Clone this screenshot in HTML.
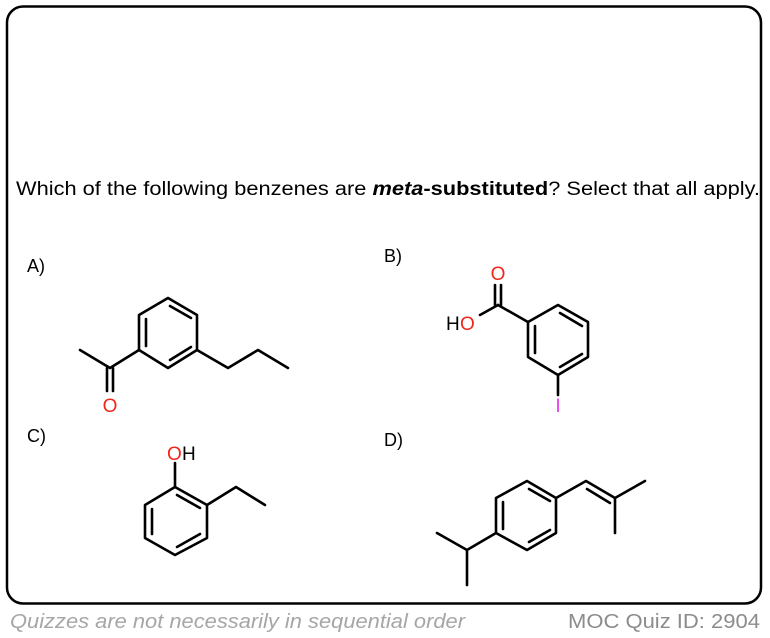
<!DOCTYPE html>
<html><head><meta charset="utf-8"><style>
html,body{margin:0;padding:0;background:#fff;width:770px;height:638px;overflow:hidden}
svg{display:block}
text{font-family:"Liberation Sans",Arial,sans-serif}
</style></head><body>
<svg width="770" height="638" viewBox="0 0 770 638" xmlns="http://www.w3.org/2000/svg">
<rect x="7" y="6.5" width="754" height="597" rx="16" ry="16" fill="none" stroke="#000" stroke-width="2.5"/>
<text x="16" y="195" font-size="19" textLength="744" lengthAdjust="spacingAndGlyphs">Which of the following benzenes are <tspan font-weight="bold" font-style="italic">meta</tspan><tspan font-weight="bold">-substituted</tspan>? Select that all apply.</text>
<text x="27" y="272" font-size="18">A)</text>
<text x="384" y="262" font-size="18">B)</text>
<text x="27" y="442" font-size="18">C)</text>
<text x="384" y="446" font-size="18">D)</text>
<g stroke="#000" stroke-width="2.6" fill="none" stroke-linecap="round" stroke-linejoin="round">
<!-- A -->
<polygon points="139,315 168,298 197,315 197,350 168,368 139,350"/>
<line x1="146" y1="319" x2="146" y2="346"/>
<line x1="170" y1="306" x2="191" y2="318"/>
<line x1="170" y1="360" x2="191" y2="347"/>
<polyline points="80,350 110,368 139,350"/>
<line x1="107" y1="368" x2="107" y2="391"/>
<line x1="113" y1="368" x2="113" y2="391"/>
<polyline points="197,350 228,368 258,350 288,368"/>
<!-- B -->
<polygon points="558,305 588,322 588,357 558,375 528,357 528,322"/>
<line x1="535" y1="326" x2="535" y2="353"/>
<line x1="560" y1="313" x2="582" y2="326"/>
<line x1="560" y1="367" x2="582" y2="354"/>
<line x1="528" y1="322" x2="498" y2="305"/>
<line x1="498" y1="305" x2="480" y2="315"/>
<line x1="495" y1="305" x2="495" y2="285"/>
<line x1="501" y1="305" x2="501" y2="285"/>
<line x1="558" y1="375" x2="558" y2="395"/>
<!-- C -->
<polygon points="175,487 207,505 207,538 175,555 145,538 145,505"/>
<line x1="152" y1="509" x2="152" y2="534"/>
<line x1="177" y1="495" x2="200" y2="508"/>
<line x1="177" y1="547" x2="200" y2="534"/>
<line x1="175" y1="487" x2="175" y2="463"/>
<polyline points="207,505 236,487 265,505"/>
<!-- D -->
<polygon points="527,481 556,498 556,533 527,550 496,533 496,498"/>
<line x1="503" y1="502" x2="503" y2="529"/>
<line x1="529" y1="489" x2="550" y2="501"/>
<line x1="529" y1="542" x2="550" y2="530"/>
<polyline points="496,533 467,550 437,533"/>
<line x1="467" y1="550" x2="467" y2="585"/>
<polyline points="556,498 586,481 615,498 645,481"/>
<line x1="587" y1="489" x2="610" y2="503"/>
<line x1="615" y1="498" x2="615" y2="533"/>
</g>
<text x="110" y="412" font-size="19" fill="#f0261b" text-anchor="middle">O</text>
<text x="498" y="280" font-size="19" fill="#f0261b" text-anchor="middle">O</text>
<text x="446" y="330" font-size="19" fill="#000">H</text>
<text x="460" y="330" font-size="19" fill="#f0261b">O</text>
<text x="558" y="412" font-size="19" fill="#e83ce8" text-anchor="middle">I</text>
<text x="167" y="460" font-size="19" fill="#f0261b">O</text>
<text x="182" y="460" font-size="19" fill="#000">H</text>
<text x="10" y="628" font-size="20" fill="#a6a6a6" font-style="italic" textLength="455" lengthAdjust="spacingAndGlyphs">Quizzes are not necessarily in sequential order</text>
<text x="568" y="628" font-size="20" fill="#8c8c8c" textLength="192" lengthAdjust="spacingAndGlyphs">MOC Quiz ID: 2904</text>
</svg>
</body></html>
